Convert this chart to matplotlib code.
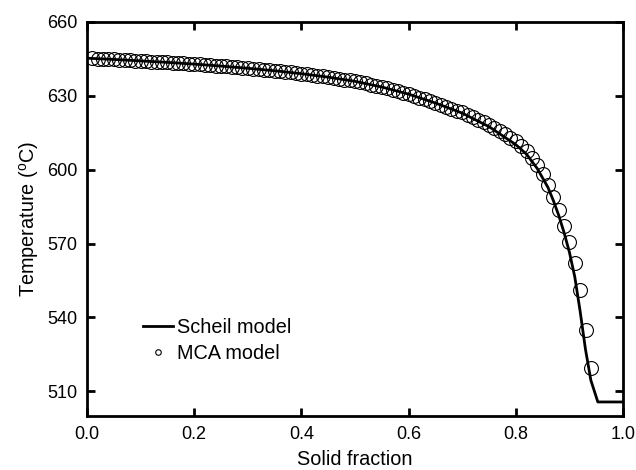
import matplotlib
matplotlib.use("Agg")
import matplotlib.pyplot as plt

plt.rcParams['font.family'] = ['Liberation Sans', 'DejaVu Sans']
plt.rcParams['mathtext.fontset'] = 'custom'
plt.rcParams['mathtext.rm'] = 'Liberation Sans'

# Scheil model curve (solid fraction, temperature in C)
scheil_fs = [0.00, 0.05, 0.10, 0.15, 0.20, 0.25, 0.30, 0.35, 0.40, 0.45,
             0.50, 0.55, 0.60, 0.65, 0.70, 0.75, 0.80, 0.82, 0.84, 0.86,
             0.87, 0.88, 0.89, 0.90, 0.91, 0.92, 0.93, 0.94, 0.953, 1.00]
scheil_T = [645.3, 644.8, 644.2, 643.6, 642.9, 642.1, 641.2, 640.2, 639.0, 637.6,
            635.9, 633.6, 630.7, 627.1, 623.0, 617.5, 610.2, 606.3, 600.5, 592.8,
            587.5, 581.5, 574.5, 566.5, 556.5, 542.5, 527.0, 514.5, 505.7, 505.7]

# MCA model points
mca_fs = [0.01, 0.02, 0.03, 0.04, 0.05, 0.06, 0.07, 0.08, 0.09, 0.10,
          0.11, 0.12, 0.13, 0.14, 0.15, 0.16, 0.17, 0.18, 0.19, 0.20,
          0.21, 0.22, 0.23, 0.24, 0.25, 0.26, 0.27, 0.28, 0.29, 0.30,
          0.31, 0.32, 0.33, 0.34, 0.35, 0.36, 0.37, 0.38, 0.39, 0.40,
          0.41, 0.42, 0.43, 0.44, 0.45, 0.46, 0.47, 0.48, 0.49, 0.50,
          0.51, 0.52, 0.53, 0.54, 0.55, 0.56, 0.57, 0.58, 0.59, 0.60,
          0.61, 0.62, 0.63, 0.64, 0.65, 0.66, 0.67, 0.68, 0.69, 0.70,
          0.71, 0.72, 0.73, 0.74, 0.75, 0.76, 0.77, 0.78, 0.79, 0.80,
          0.81, 0.82, 0.83, 0.84, 0.85, 0.86, 0.87, 0.88, 0.89, 0.90,
          0.91, 0.92, 0.93, 0.94]
mca_T = [645.2, 645.1, 645.0, 644.9, 644.8, 644.7, 644.6, 644.5, 644.35, 644.2,
         644.1, 643.95, 643.85, 643.7, 643.6, 643.45, 643.3, 643.2, 643.05, 642.9,
         642.75, 642.6, 642.45, 642.3, 642.1, 641.95, 641.75, 641.6, 641.4, 641.2,
         641.0, 640.8, 640.6, 640.4, 640.2, 640.0, 639.75, 639.5, 639.25, 639.0,
         638.75, 638.5, 638.2, 637.9, 637.6, 637.3, 636.95, 636.6, 636.25, 635.9,
         635.5, 635.05, 634.6, 634.1, 633.6, 633.05, 632.5, 631.9, 631.3, 630.7,
         630.0, 629.3, 628.6, 627.9, 627.1, 626.3, 625.5, 624.7, 623.9, 623.3,
         622.4, 621.4, 620.4, 619.3, 618.2, 617.0, 615.7, 614.4, 613.0, 611.5,
         609.6, 607.5, 604.8, 601.8, 598.3, 594.0, 589.0, 583.5, 577.0, 570.5,
         562.0, 551.0, 535.0, 519.5]

x_ticks = [0.0, 0.2, 0.4, 0.6, 0.8, 1.0]
y_ticks = [510, 540, 570, 600, 630, 660]

fig = plt.figure(figsize=(6.36, 4.70), dpi=100)
ax = fig.add_axes([0.1368, 0.1149, 0.8428, 0.8383])

ax.plot(mca_fs, mca_T, linestyle='none', marker='o', markersize=10,
        markerfacecolor='none', markeredgecolor='black', markeredgewidth=0.8,
        label='MCA model', zorder=2)
ax.plot(scheil_fs, scheil_T, color='black', linewidth=2.0,
        label='Scheil model', zorder=3)

ax.set_xlim(0.0, 1.0)
ax.set_ylim(500, 660)
ax.set_xticks(x_ticks)
ax.set_xticklabels([f"{v:.1f}" for v in x_ticks])
ax.set_yticks(y_ticks)
ax.set_yticklabels([str(v) for v in y_ticks])

for s in ax.spines.values():
    s.set_linewidth(2.0)
ax.tick_params(direction='in', length=6, width=2.0, top=True, right=True,
               labelsize=13, pad=7)

ax.set_xlabel('Solid fraction', fontsize=14.3, labelpad=5)
ax.set_ylabel(r'Temperature ($^{\rm o}$C)', fontsize=14.3, labelpad=4)

handles, labels = ax.get_legend_handles_labels()
leg = ax.legend([handles[1], handles[0]], [labels[1], labels[0]],
                loc='upper left', bbox_to_anchor=(0.09, 0.27),
                frameon=False, fontsize=14.3, handlelength=1.5,
                handletextpad=0.2, labelspacing=0.35, markerscale=0.4,
                borderaxespad=0.0)

fig.savefig('out.png', dpi=100)
